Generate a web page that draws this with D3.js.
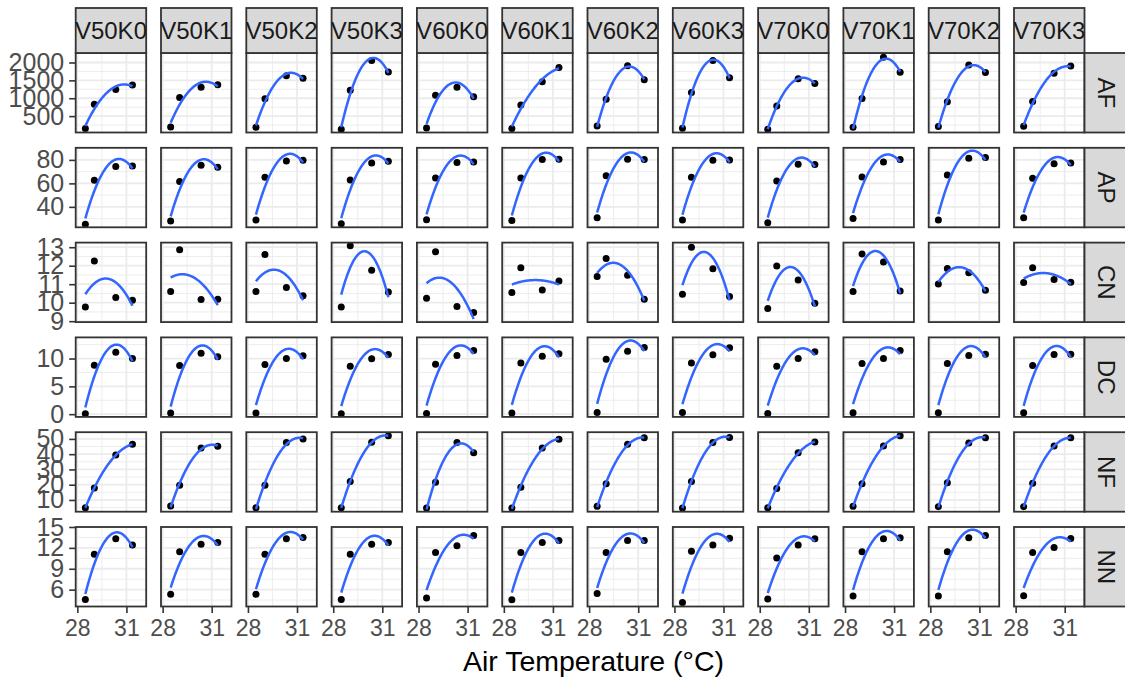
<!DOCTYPE html>
<html>
<head>
<meta charset="utf-8">
<script src="https://cdn.jsdelivr.net/npm/d3@7"></script>
<style>
  body { margin: 0; background: #fff; }
  svg { display: block; font-family: "Liberation Sans", Arial, sans-serif; }
</style>
</head>
<body>
<svg id="chart" width="1125" height="680"></svg>
<script>
// facet columns (treatments) and rows (variables)
const treatments = ['V50K0', 'V50K1', 'V50K2', 'V50K3', 'V60K0', 'V60K1', 'V60K2', 'V60K3', 'V70K0', 'V70K1', 'V70K2', 'V70K3'];
const variables = ['AF', 'AP', 'CN', 'DC', 'NF', 'NN'];
const temps = [28.49, 29.04, 30.35, 31.37];

// one array of 4 values (per temperature) for each treatment
const af = [
    [151, 830, 1242, 1368], [198, 1022, 1305, 1379], [187, 984, 1626, 1560], [132, 1223, 2055, 1736],
    [170, 1085, 1305, 1039], [151, 810, 1462, 1863], [225, 975, 1909, 1517], [160, 1159, 2055, 1571],
    [132, 783, 1544, 1415], [187, 995, 2148, 1725], [206, 901, 1929, 1717], [214, 912, 1698, 1901]
];
const ap = [
    [25.1, 62.6, 74.3, 74.9], [27.9, 61.7, 75.5, 73.7], [28.8, 65.2, 79.1, 79.7], [25.7, 62.8, 77.4, 78.9],
    [29.1, 64.6, 77.7, 78.3], [28.3, 64.6, 80.3, 80.6], [30.8, 66.5, 80.6, 80.3], [28.8, 65.2, 79.7, 80.0],
    [26.5, 62.0, 76.3, 76.0], [30.0, 65.4, 78.3, 80.3], [28.8, 67.1, 81.5, 82.0], [30.8, 64.3, 76.8, 77.4]
];
const cn = [
    [9.77, 12.25, 10.28, 10.13], [10.6, 12.86, 10.17, 10.19], [10.6, 12.61, 10.82, 10.37], [9.77, 13.08, 11.76, 10.58],
    [10.24, 12.75, 9.8, 9.47], [10.55, 11.89, 10.69, 11.17], [11.41, 12.39, 11.49, 10.19], [10.46, 13.0, 11.84, 10.33],
    [9.69, 11.98, 11.23, 9.97], [10.6, 12.64, 12.2, 10.63], [11.01, 11.85, 11.62, 10.67], [11.09, 11.89, 11.26, 11.1]
];
const dc = [
    [0.07, 8.8, 11.14, 10.0], [0.2, 8.74, 10.96, 10.31], [0.2, 8.92, 10.0, 10.49], [0.07, 8.61, 9.95, 10.72],
    [0.13, 8.97, 10.54, 11.44], [0.2, 9.22, 10.42, 10.85], [0.31, 9.87, 11.32, 11.99], [0.31, 9.22, 10.66, 11.93],
    [0.13, 8.61, 10.0, 11.2], [0.25, 9.1, 10.0, 11.44], [0.25, 9.1, 10.54, 10.78], [0.25, 8.74, 10.72, 10.78]
];
const nf = [
    [4.9, 17.9, 39.4, 46.5], [6.0, 19.6, 44.1, 45.2], [4.9, 19.6, 47.6, 50.0], [4.9, 22.1, 47.8, 52.0],
    [4.7, 21.6, 47.6, 41.0], [4.7, 18.3, 44.1, 49.8], [5.8, 20.6, 46.5, 50.7], [4.7, 22.1, 47.6, 50.9],
    [4.9, 17.5, 41.0, 48.0], [5.8, 20.6, 45.4, 52.0], [5.6, 21.2, 47.4, 50.7], [5.6, 21.0, 45.4, 50.7]
];
const nn = [
    [4.6, 11.08, 13.3, 12.43], [5.33, 11.46, 12.53, 12.77], [5.33, 11.08, 13.3, 13.5], [4.6, 11.08, 12.53, 12.77],
    [4.8, 11.32, 12.29, 13.78], [4.56, 11.32, 12.77, 13.06], [5.43, 11.32, 13.06, 13.06], [4.17, 11.52, 12.43, 13.4],
    [4.65, 10.55, 12.43, 13.3], [5.08, 11.46, 13.3, 13.45], [5.08, 11.46, 13.45, 13.78], [5.14, 11.32, 12.04, 13.35]
];
const rowData = [af, ap, cn, dc, nf, nn];

// axis limits and tick labels
const xDomain = [27.9, 32.21];
const xTicks = [28, 31];
const xMinor = [29.5];
const yDomains = [[41, 2266], [22.6, 90.3], [8.95, 13.25], [-0.49, 13.8], [2.3, 54.4], [3.58, 15.0]];
const yTicks = [[500, 1000, 1500, 2000], [40, 60, 80], [9, 10, 11, 12, 13], [0, 5, 10], [10, 20, 30, 40, 50], [6, 9, 12, 15]];

// layout
const left0 = 75.7, colStep = 85.3, pw = 70.5;
const top0 = 53, rowStep = 94.8, ph = 79.5;
const stripH = 45, stripW = 44;

const svg = d3.select('#chart');
const defs = svg.append('defs');
defs.append('clipPath').attr('id', 'panelClip')
    .append('rect').attr('width', pw).attr('height', ph);
defs.append('clipPath').attr('id', 'stripClip')
    .append('rect').attr('width', pw).attr('height', stripH);

const x = d3.scaleLinear().domain(xDomain).range([0, pw]);

// least squares fit y = a + b*x + c*x^2 (like geom_smooth(method = lm, formula = y ~ poly(x, 2)))
function quadFit(xs, ys) {
    const m = d3.mean(xs);
    const u = xs.map(v => v - m);
    const s = [0, 0, 0, 0, 0], t = [0, 0, 0];
    u.forEach((v, i) => {
        for (let k = 0; k < 5; k++) s[k] += Math.pow(v, k);
        for (let k = 0; k < 3; k++) t[k] += ys[i] * Math.pow(v, k);
    });
    const A = [[s[0], s[1], s[2]], [s[1], s[2], s[3]], [s[2], s[3], s[4]]];
    const det3 = M => M[0][0] * (M[1][1] * M[2][2] - M[1][2] * M[2][1])
        - M[0][1] * (M[1][0] * M[2][2] - M[1][2] * M[2][0])
        + M[0][2] * (M[1][0] * M[2][1] - M[1][1] * M[2][0]);
    const D = det3(A);
    const coef = [0, 1, 2].map(j => det3(A.map((row, i) => row.map((val, k) => k === j ? t[i] : val))) / D);
    return xv => coef[0] + coef[1] * (xv - m) + coef[2] * (xv - m) * (xv - m);
}

function minorTicks(ticks, domain) {
    const step = ticks[1] - ticks[0];
    const out = [];
    for (let v = ticks[0] - step / 2; v <= domain[1]; v += step) {
        if (v >= domain[0]) out.push(v);
    }
    return out;
}

const gridColor = '#EBEBEB';
const xs = d3.range(80).map(i => temps[0] + (temps[3] - temps[0]) * i / 79);

variables.forEach((variable, r) => {
    const y = d3.scaleLinear().domain(yDomains[r]).range([ph, 0]);
    const yMinor = minorTicks(yTicks[r], yDomains[r]);
    const py = top0 + r * rowStep;

    treatments.forEach((treatment, c) => {
        const px = left0 + c * colStep;
        const values = rowData[r][c];
        const g = svg.append('g').attr('transform', `translate(${px},${py})`);

        g.append('rect').attr('width', pw).attr('height', ph).attr('fill', '#fff');

        // minor grid
        g.selectAll('.xminor').data(xMinor).enter().append('line')
            .attr('x1', d => x(d)).attr('x2', d => x(d)).attr('y1', 0).attr('y2', ph)
            .attr('stroke', gridColor).attr('stroke-width', 0.9);
        g.selectAll('.yminor').data(yMinor).enter().append('line')
            .attr('x1', 0).attr('x2', pw).attr('y1', d => y(d)).attr('y2', d => y(d))
            .attr('stroke', gridColor).attr('stroke-width', 0.9);
        // major grid
        g.selectAll('.xmajor').data(xTicks).enter().append('line')
            .attr('x1', d => x(d)).attr('x2', d => x(d)).attr('y1', 0).attr('y2', ph)
            .attr('stroke', gridColor).attr('stroke-width', 1.8);
        g.selectAll('.ymajor').data(yTicks[r]).enter().append('line')
            .attr('x1', 0).attr('x2', pw).attr('y1', d => y(d)).attr('y2', d => y(d))
            .attr('stroke', gridColor).attr('stroke-width', 1.8);

        const inner = g.append('g').attr('clip-path', 'url(#panelClip)');

        inner.selectAll('circle')
            .data(temps.map((t, i) => [t, values[i]]))
            .enter().append('circle')
            .attr('cx', d => x(d[0]))
            .attr('cy', d => y(d[1]))
            .attr('r', 3.5)
            .attr('fill', '#000');

        const fit = quadFit(temps, values);
        inner.append('path')
            .datum(xs)
            .attr('d', d3.line().x(d => x(d)).y(d => y(fit(d))))
            .attr('fill', 'none')
            .attr('stroke', '#3366FF')
            .attr('stroke-width', 2.5);

        g.append('rect').attr('width', pw).attr('height', ph)
            .attr('fill', 'none').attr('stroke', '#333').attr('stroke-width', 1.8);

        // y axis on first column
        if (c === 0) {
            const ay = g.append('g')
                .call(d3.axisLeft(y).tickValues(yTicks[r]).tickFormat(d3.format('d')).tickSize(6.5).tickPadding(5));
            ay.select('.domain').remove();
            ay.selectAll('line').attr('stroke', '#333').attr('stroke-width', 1.6);
            ay.selectAll('text').attr('fill', '#4D4D4D').style('font-size', '25px');
        }
        // x axis on bottom row
        if (r === variables.length - 1) {
            const ax = g.append('g')
                .attr('transform', `translate(0,${ph})`)
                .call(d3.axisBottom(x).tickValues(xTicks).tickFormat(d3.format('d')).tickSize(6.5).tickPadding(7));
            ax.select('.domain').remove();
            ax.selectAll('line').attr('stroke', '#333').attr('stroke-width', 1.6);
            ax.selectAll('text').attr('fill', '#4D4D4D').style('font-size', '23px');
        }
        // column strips on top row
        if (r === 0) {
            const sg = svg.append('g').attr('transform', `translate(${px},${py - stripH})`);
            sg.append('rect').attr('width', pw).attr('height', stripH)
                .attr('fill', '#D9D9D9').attr('stroke', '#333').attr('stroke-width', 1.8);
            sg.append('g').attr('clip-path', 'url(#stripClip)')
                .append('text')
                .attr('x', pw / 2).attr('y', stripH / 2)
                .attr('dy', '0.35em')
                .attr('text-anchor', 'middle')
                .attr('fill', '#1A1A1A')
                .style('font-size', '24px')
                .text(treatment);
        }
    });

    // row strip on the right
    const sx = left0 + (treatments.length - 1) * colStep + pw;
    const rs = svg.append('g').attr('transform', `translate(${sx},${py})`);
    rs.append('rect').attr('width', stripW).attr('height', ph)
        .attr('fill', '#D9D9D9').attr('stroke', '#333').attr('stroke-width', 1.8);
    rs.append('text')
        .attr('transform', `translate(${stripW / 2},${ph / 2}) rotate(90)`)
        .attr('dy', '0.35em')
        .attr('text-anchor', 'middle')
        .attr('fill', '#1A1A1A')
        .style('font-size', '24px')
        .text(variable);
});

svg.append('text')
    .attr('x', 593.5)
    .attr('y', 671)
    .attr('text-anchor', 'middle')
    .attr('fill', '#000')
    .style('font-size', '28.5px')
    .text('Air Temperature (°C)');
</script>
</body>
</html>
